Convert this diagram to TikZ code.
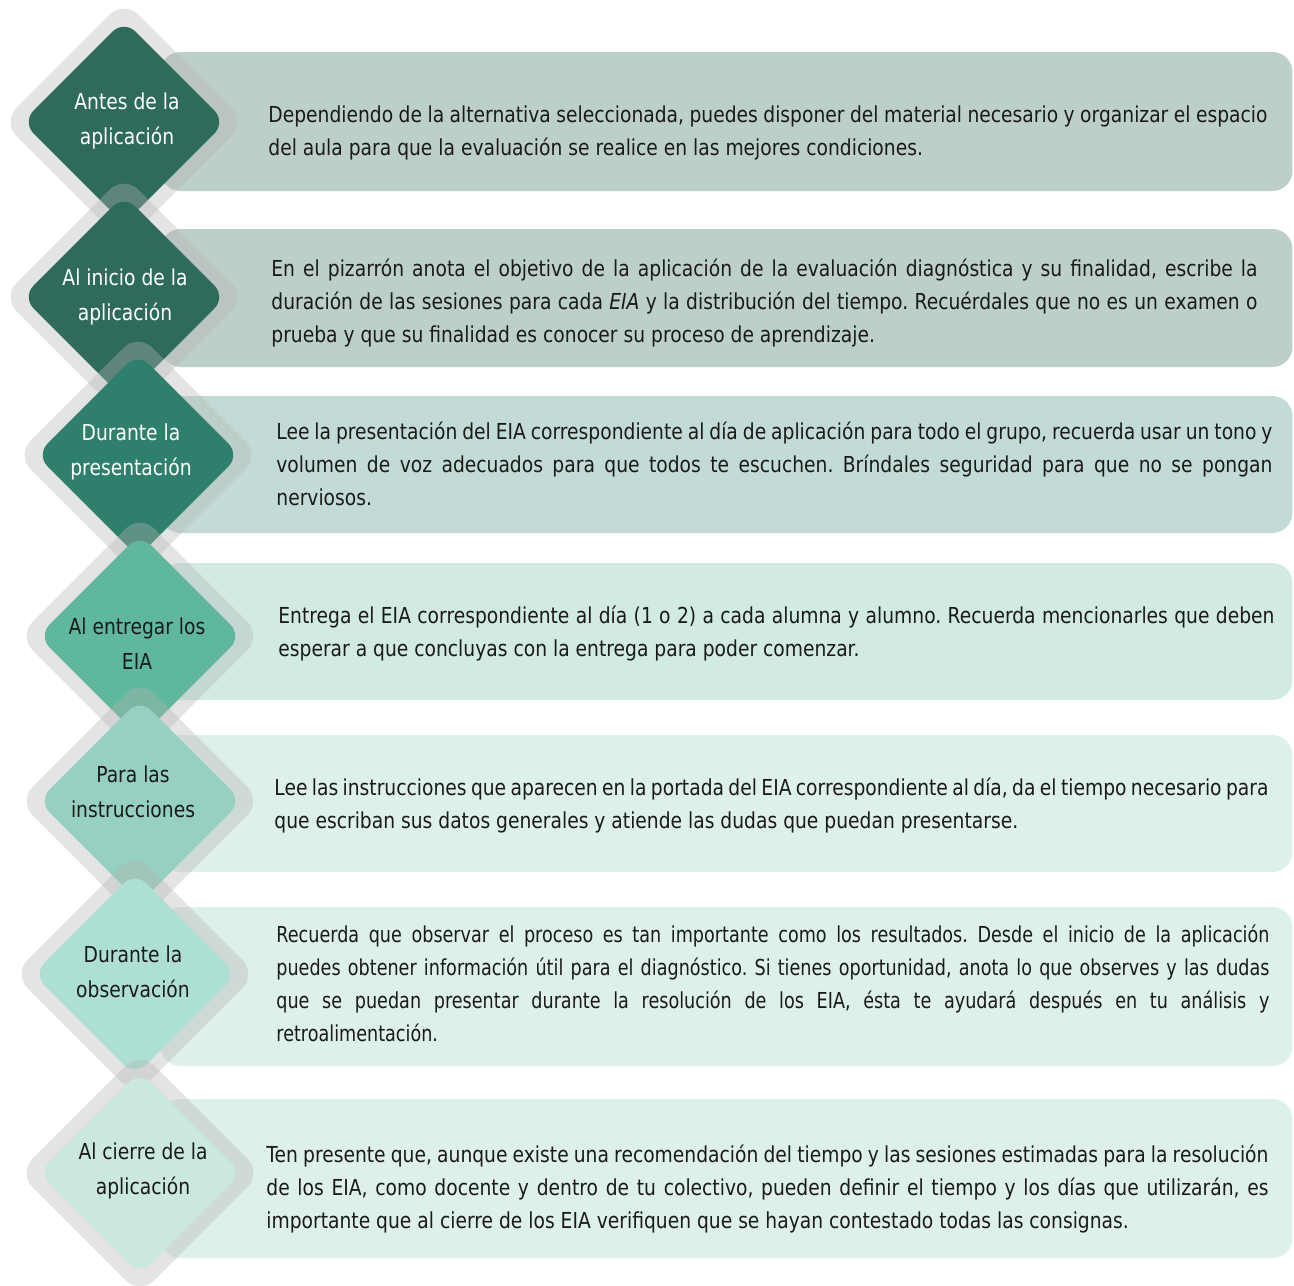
\documentclass[tikz,border=0pt]{standalone}
\usepackage{fontspec}
\setmainfont{DejaVu Sans}[FakeStretch=0.85]
\newfontfamily\narrowfont{DejaVu Sans}[FakeStretch=0.8]
\usepackage{xcolor}
\definecolor{ink}{HTML}{1A1A1A}
\definecolor{halogray}{HTML}{B5B5B5}
\definecolor{diaA}{HTML}{2E6B5B}
\definecolor{diaB}{HTML}{2E7F6C}
\definecolor{diaC}{HTML}{5FB89E}
\definecolor{diaD}{HTML}{95D0C0}
\definecolor{diaE}{HTML}{AEDFD3}
\definecolor{diaF}{HTML}{CAE8E0}
\definecolor{barA}{HTML}{BDCFC9}
\definecolor{barB}{HTML}{C3DBD6}
\definecolor{barC}{HTML}{D1EAE3}
\definecolor{barD}{HTML}{DEF0EB}
\hyphenpenalty=10000
\frenchspacing

\begin{document}
\begin{tikzpicture}[x=0.5pt, y=-0.5pt,
  bar/.style={rounded corners=10pt, minimum width=566pt, anchor=west, inner sep=0},
  halo/.style={rotate=45, minimum size=86pt, rounded corners=10pt, fill=halogray, fill opacity=.36, inner sep=0},
  dia/.style={rotate=45, minimum size=72pt, rounded corners=8pt, inner sep=0},
  lab/.style={align=center, inner sep=0, font=\fontsize{11}{17.5}\selectfont},
  txt/.style={align=justify, anchor=west, inner sep=0, text=ink, font=\fontsize{11}{16.5}\selectfont}]
\fill [white] (0,0) rectangle (1294,1285);
\useasboundingbox (0,0) rectangle (1294,1285);
\clip (0,0) rectangle (1294,1285);

\node [bar, fill=barA, minimum height=69.5pt] (bar1) at (160,121.5) {};
\node [halo] (halo1) at (124,122) {};
\node [dia, fill=diaA] (dia1) at (124,122) {};

\node [bar, fill=barA, minimum height=69pt] (bar2) at (160,298) {};
\node [halo] (halo2) at (124,297) {};
\node [dia, fill=diaA] (dia2) at (124,297) {};

\node [bar, fill=barB, minimum height=68.5pt] (bar3) at (160,464.5) {};
\node [halo] (halo3) at (138,455) {};
\node [dia, fill=diaB] (dia3) at (138,455) {};

\node [bar, fill=barC, minimum height=68.5pt] (bar4) at (160,631.5) {};
\node [halo] (halo4) at (140,636) {};
\node [dia, fill=diaC] (dia4) at (140,636) {};

\node [bar, fill=barD, minimum height=68.5pt] (bar5) at (160,803.5) {};
\node [halo] (halo5) at (140,801) {};
\node [dia, fill=diaD] (dia5) at (140,801) {};

\node [bar, fill=barD, minimum height=79.5pt] (bar6) at (160,986.5) {};
\node [halo] (halo6) at (135,974) {};
\node [dia, fill=diaE] (dia6) at (135,974) {};

\node [bar, fill=barD, minimum height=79.5pt] (bar7) at (160,1178.5) {};
\node [halo] (halo7) at (140,1173) {};
\node [dia, fill=diaF] (dia7) at (140,1173) {};

\node [lab, white] (lab1) at (127,121) {Antes de la\\aplicación};
\node [lab, white] (lab2) at (125,297) {Al inicio de la\\aplicación};
\node [lab, white] (lab3) at (131,452) {Durante la\\presentación};
\node [lab, ink] (lab4) at (137,644) {Al entregar los\\EIA};
\node [lab, ink] (lab5) at (133,792) {Para las\\instrucciones};
\node [lab, ink] (lab6) at (133,972) {Durante la\\observación};
\node [lab, ink] (lab7) at (143,1171) {Al cierre de la\\aplicación};

\node [txt, text width=499.5pt] (txt1) at (268,132.5) {Dependiendo de la alternativa seleccionada, puedes disponer del material necesario y organizar el espacio\linebreak del aula para que la evaluación se realice en las mejores condiciones.};
\node [txt, text width=493pt] (txt2) at (271,303) {En el pizarrón anota el objetivo de la aplicación de la evaluación diagnóstica y su finalidad, escribe la\linebreak duración de las sesiones para cada \textit{EIA} y la distribución del tiempo. Recuérdales que no es un examen o\linebreak prueba y que su finalidad es conocer su proceso de aprendizaje.};
\node [txt, text width=498pt] (txt3) at (276,463.5) {Lee la presentación del EIA correspondiente al día de aplicación para todo el grupo, recuerda usar un tono y\linebreak volumen de voz adecuados para que todos te escuchen. Bríndales seguridad para que no se pongan\linebreak nerviosos.};
\node [txt, text width=498pt] (txt4) at (278,633.5) {Entrega el EIA correspondiente al día (1 o 2) a cada alumna y alumno. Recuerda mencionarles que deben\linebreak esperar a que concluyas con la entrega para poder comenzar.};
\node [txt, text width=497pt] (txt5) at (274,805) {Lee las instrucciones que aparecen en la portada del EIA correspondiente al día, da el tiempo necesario para\linebreak que escriban sus datos generales y atiende las dudas que puedan presentarse.};
\node [txt, text width=496.5pt, font=\fontsize{11}{16.5}\narrowfont] (txt6) at (276,983.5) {Recuerda que observar el proceso es tan importante como los resultados. Desde el inicio de la aplicación\linebreak puedes obtener información útil para el diagnóstico. Si tienes oportunidad, anota lo que observes y las dudas\linebreak que se puedan presentar durante la resolución de los EIA, ésta te ayudará después en tu análisis y\linebreak retroalimentación.};
\node [txt, text width=501pt] (txt7) at (266,1188.5) {Ten presente que, aunque existe una recomendación del tiempo y las sesiones estimadas para la resolución\linebreak de los EIA, como docente y dentro de tu colectivo, pueden definir el tiempo y los días que utilizarán, es\linebreak importante que al cierre de los EIA verifiquen que se hayan contestado todas las consignas.};
\end{tikzpicture}
\end{document}
